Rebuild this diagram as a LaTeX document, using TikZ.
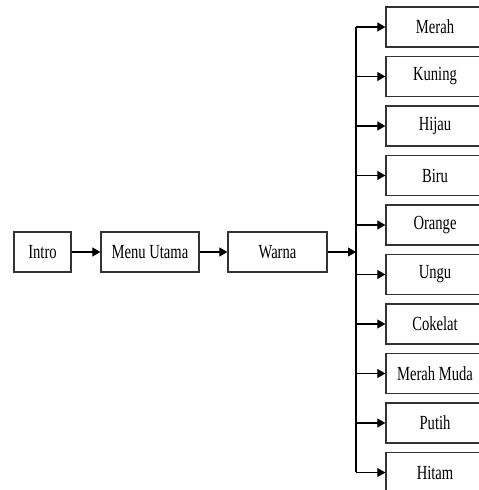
\documentclass[tikz,border=0pt]{standalone}
\usepackage{fontspec}
\newfontfamily\narrowfont[FakeStretch=0.73]{Liberation Serif}
\usetikzlibrary{arrows.meta}
\begin{document}
\begin{tikzpicture}[x=1pt,y=1pt,
  box/.style={draw=black!80,line width=1.3pt,minimum height=40pt,inner sep=0pt,
    font=\narrowfont\fontsize{20}{24}\selectfont},
  conn/.style={line width=1.1pt,-{Triangle[length=8pt,width=9pt]}},
  plain/.style={line width=1.1pt}]
\useasboundingbox (0,0) rectangle (479,490);
\clip (0,0) rectangle (479,490);
% main chain (image y -> 490 - y)
\node[box,minimum width=57pt] (intro) at (42.5,238) {Intro};
\node[box,minimum width=98pt] (menu) at (150,238) {Menu Utama};
\node[box,minimum width=99pt] (warna) at (277.5,238) {Warna};
% right column
\foreach \i/\t in {0/Merah,1/Kuning,2/Hijau,3/Biru,4/Orange,5/Ungu,6/Cokelat,7/Merah Muda,8/Putih,9/Hitam}{
  \node[box,minimum width=98pt] (c\i) at (435,{463-49.5*\i}) {\t};
}
\coordinate (spine) at (356,238);
\draw[conn] (intro.east) -- (menu.west);
\draw[conn] (menu.east) -- (warna.west);
\draw[conn] (warna.east) -- (spine);
\draw[plain] (spine |- c0.west) -- (spine |- c9.west);
\foreach \i in {0,...,9}{
  \draw[conn] (spine |- c\i.west) -- (c\i.west);
}
\end{tikzpicture}
\end{document}
